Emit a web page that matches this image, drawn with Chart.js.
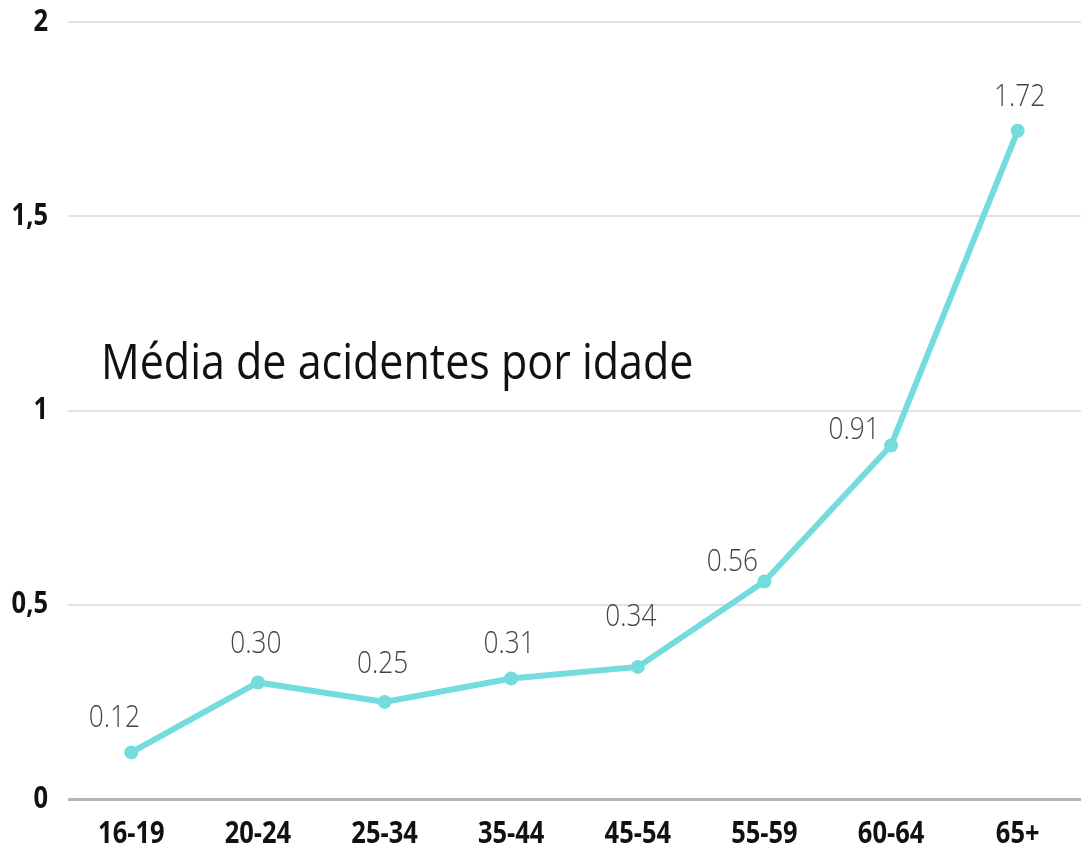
<!DOCTYPE html>
<html>
<head>
<meta charset="utf-8">
<script src="https://cdn.jsdelivr.net/npm/chart.js@4/dist/chart.umd.min.js"></script>
<style>
  html, body { margin: 0; padding: 0; background: #fff; overflow: hidden; }
  canvas { display: block; }
</style>
</head>
<body>
<canvas id="chart" width="1081" height="852"></canvas>
<script>
// Data
const ageGroups = ["16-19", "20-24", "25-34", "35-44", "45-54", "55-59", "60-64", "65+"];
const avgAccidents = [0.12, 0.30, 0.25, 0.31, 0.34, 0.56, 0.91, 1.72];
const yTicks = [0, 0.5, 1, 1.5, 2];
const chartTitle = "Média de acidentes por idade";

// label nudges (px) so the value text clears the line
const labelShift = [[-17, -34], [-2, -39], [-2, -38], [-2, -35], [-7, -50], [-32, -20], [-37, -16], [2, -34]];

const LINE_COLOR = "#74dcdc";

// the source uses a condensed face, so squeeze text horizontally
function drawText(ctx, text, x, y, align, sx) {
  ctx.save();
  ctx.translate(x, y);
  ctx.scale(sx, 1);
  ctx.textAlign = align;
  ctx.fillText(text, 0, 0);
  ctx.restore();
}

// draws axis labels, the title inside the plot and the value above each point
const textPlugin = {
  id: "textPlugin",
  afterDatasetsDraw(chart) {
    const ctx = chart.ctx;
    const meta = chart.getDatasetMeta(0);
    const xScale = chart.scales.x;
    const yScale = chart.scales.y;

    ctx.save();

    // axis labels
    ctx.fillStyle = "#111";
    ctx.font = "bold 30px 'Open Sans'";
    ctx.textBaseline = "middle";
    yTicks.forEach((v) => {
      const label = String(v).replace(".", ",");
      drawText(ctx, label, 48, yScale.getPixelForValue(v), "right", 0.85);
    });
    ageGroups.forEach((g, i) => {
      drawText(ctx, g, xScale.getPixelForValue(i), chart.chartArea.bottom + 35, "center", 0.85);
    });

    // title
    ctx.font = "400 50px 'Open Sans'";
    ctx.textBaseline = "alphabetic";
    drawText(ctx, chartTitle, 101, 379, "left", 0.86);

    // value labels
    ctx.fillStyle = "#444";
    ctx.font = "300 32px 'Open Sans'";
    ctx.textBaseline = "middle";
    meta.data.forEach((pt, i) => {
      const [dx, dy] = labelShift[i];
      drawText(ctx, avgAccidents[i].toFixed(2), pt.x + dx, pt.y + dy, "center", 0.82);
    });

    ctx.restore();
  },
};

const ctx = document.querySelector("#chart").getContext("2d");

new Chart(ctx, {
  type: "line",
  data: {
    labels: ageGroups,
    datasets: [
      {
        data: avgAccidents,
        borderColor: LINE_COLOR,
        backgroundColor: LINE_COLOR,
        borderWidth: 6,
        pointRadius: 7,
        pointBorderWidth: 0,
        tension: 0,
        fill: false,
        clip: false,
      },
    ],
  },
  options: {
    responsive: false,
    animation: false,
    layout: { autoPadding: false, padding: { top: 22, right: -3, bottom: 53, left: 68 } },
    plugins: {
      legend: { display: false },
      tooltip: { enabled: false },
      title: { display: false },
    },
    scales: {
      x: {
        offset: true,
        grid: { display: false, drawTicks: false },
        border: { display: false },
        ticks: { display: false },
      },
      y: {
        min: 0,
        max: 2,
        afterBuildTicks(axis) {
          axis.ticks = yTicks.map((v) => ({ value: v }));
        },
        grid: {
          drawTicks: false,
          lineWidth: (c) => (c.tick && c.tick.value === 0 ? 3 : 2),
          color: (c) => (c.tick && c.tick.value === 0 ? "#b4b4b4" : "#e2e2e2"),
        },
        border: { display: false },
        ticks: { display: false },
      },
    },
  },
  plugins: [textPlugin],
});
</script>
</body>
</html>
